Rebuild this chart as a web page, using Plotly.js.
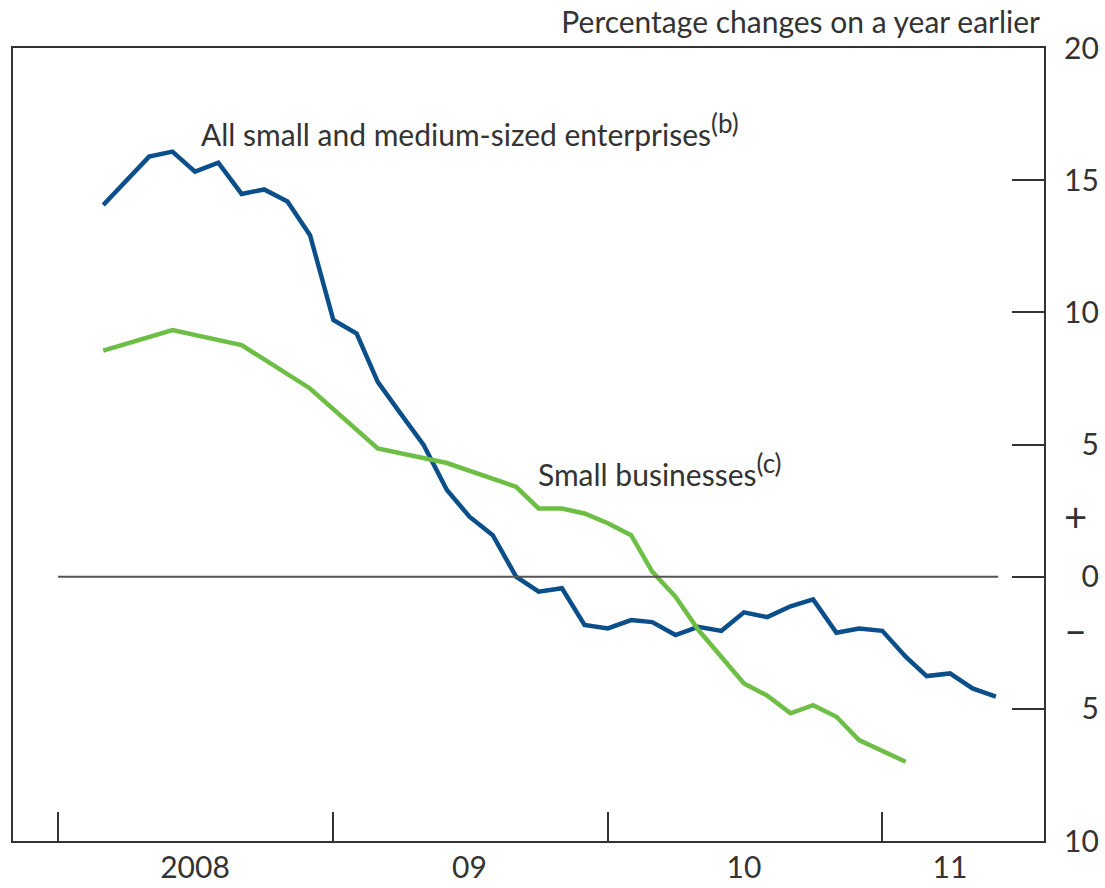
<!DOCTYPE html>
<html>
<head>
<meta charset="utf-8">
<script src="https://cdn.plot.ly/plotly-3.0.1.min.js"></script>
<style>html,body{margin:0;padding:0;background:#fff;}#chart{width:1105px;height:888px;}</style>
</head>
<body>
<div id="chart"></div>
<script>
// Months of observation
const smeMonths = ['2008-03','2008-04','2008-05','2008-06','2008-07','2008-08','2008-09','2008-10','2008-11','2008-12',
  '2009-01','2009-02','2009-03','2009-04','2009-05','2009-06','2009-07','2009-08','2009-09','2009-10','2009-11','2009-12',
  '2010-01','2010-02','2010-03','2010-04','2010-05','2010-06','2010-07','2010-08','2010-09','2010-10','2010-11','2010-12',
  '2011-01','2011-02','2011-03','2011-04','2011-05','2011-06'];
// All small and medium-sized enterprises (b)
const smeValues = [14.06,15.0,15.89,16.08,15.32,15.66,14.48,14.65,14.19,12.92,
  9.71,9.2,7.37,6.15,4.98,3.28,2.27,1.57,0.0,-0.57,-0.44,-1.83,
  -1.96,-1.64,-1.72,-2.21,-1.9,-2.05,-1.35,-1.53,-1.12,-0.86,-2.12,-1.96,
  -2.05,-3.03,-3.76,-3.66,-4.23,-4.54];
// Small businesses (c)
const smallMonths = ['2008-03','2008-06','2008-09','2008-12','2009-03','2009-06','2009-09','2009-10','2009-11','2009-12',
  '2010-01','2010-02','2010-03','2010-04','2010-05','2010-06','2010-07','2010-08','2010-09','2010-10','2010-11','2010-12',
  '2011-01','2011-02'];
const smallValues = [8.55,9.33,8.76,7.12,4.85,4.3,3.4,2.58,2.58,2.39,
  2.02,1.57,0.19,-0.76,-2.0,-3.05,-4.04,-4.5,-5.17,-4.86,-5.3,-6.18,
  -6.59,-7.0];

// Axis ticks and labels
const yearTicks = ['2008-01-01','2009-01-01','2010-01-01','2011-01-01'];
const yearLabelPos = ['2008-07-01','2009-07-01','2010-07-01','2011-04-01'];
const yearLabels = ['2008','09','10','11'];
const yTicks = [-5,0,5,10,15];
const yLabelVals = [20,15,10,5,2.1,0,-2.2,-5,-10];
const yLabelText = ['20','15','10','\u20075','<span style="font-size:40px">+</span>','\u20070',
  '<span style="font-size:40px">\u2013</span>','\u20075','10'];

const FONT = 'Lato, "Open Sans", sans-serif';
const TXT = '#333333';
const FS = 30;
const xRange = ['2007-11-02','2011-08-04'];
const yRange = [-10,20];

const traces = [
  {x: smeMonths, y: smeValues, type:'scatter', mode:'lines', line:{color:'#0b4f8a', width:4.5}, hoverinfo:'skip'},
  {x: smallMonths, y: smallValues, type:'scatter', mode:'lines', line:{color:'#6dbe45', width:4.5}, hoverinfo:'skip'},
  {x: [xRange[0]], y: [0], xaxis:'x2', yaxis:'y2', type:'scatter', mode:'markers', marker:{opacity:0}, hoverinfo:'skip'}
];

const SUP = s => '<sup><span style="font-size:26px">' + s + '</span></sup>';

const layout = {
  width:1105, height:888,
  margin:{l:13, r:61, t:48, b:47},
  paper_bgcolor:'#fff', plot_bgcolor:'#fff',
  showlegend:false,
  font:{family:FONT, color:TXT, size:FS},
  title:{text:'Percentage changes on a year earlier', font:{family:FONT, size:FS, color:TXT},
    xref:'paper', x:(1040-13)/1031, xanchor:'right', yref:'container', y:0.975, yanchor:'middle'},
  xaxis:{type:'date', range:xRange, tickvals:yearTicks, ticks:'inside', ticklen:29, tickwidth:2, tickcolor:'#333',
    showticklabels:false, showgrid:false, zeroline:false, showline:true, linecolor:'#333', linewidth:2, mirror:true, fixedrange:true},
  xaxis2:{type:'date', range:xRange, overlaying:'x', side:'bottom', tickvals:yearLabelPos, ticktext:yearLabels,
    ticks:'', showgrid:false, zeroline:false, showline:false, tickfont:{family:FONT, size:FS, color:TXT}, ticklabelstandoff:6, fixedrange:true},
  yaxis:{range:yRange, side:'right', tickvals:yTicks, ticks:'inside', ticklen:32, tickwidth:2, tickcolor:'#333',
    showticklabels:false, showgrid:false, zeroline:false, showline:true, linecolor:'#333', linewidth:2, mirror:true, fixedrange:true},
  yaxis2:{range:yRange, overlaying:'y', side:'right', tickvals:yLabelVals, ticktext:yLabelText, ticks:'',
    showgrid:false, zeroline:false, showline:false, tickfont:{family:FONT, size:FS, color:TXT}, ticklabelstandoff:19, fixedrange:true},
  shapes:[
    {type:'line', xref:'x', yref:'y', x0:'2008-01-01', x1:'2011-06-04', y0:0, y1:0, line:{color:'#555', width:2}}
  ],
  annotations:[
    {text:'All small and medium-sized enterprises' + SUP('(b)'), xref:'paper', yref:'paper', x:(199-13)/1031, y:1-(129-48)/793,
      xanchor:'left', yanchor:'middle', showarrow:false, font:{family:FONT, size:FS, color:TXT}},
    {text:'Small businesses' + SUP('(c)'), xref:'paper', yref:'paper', x:(536-13)/1031, y:1-(469-48)/793,
      xanchor:'left', yanchor:'middle', showarrow:false, font:{family:FONT, size:FS, color:TXT}}
  ]
};

Plotly.newPlot('chart', traces, layout, {staticPlot:true, displayModeBar:false});
</script>
</body>
</html>
